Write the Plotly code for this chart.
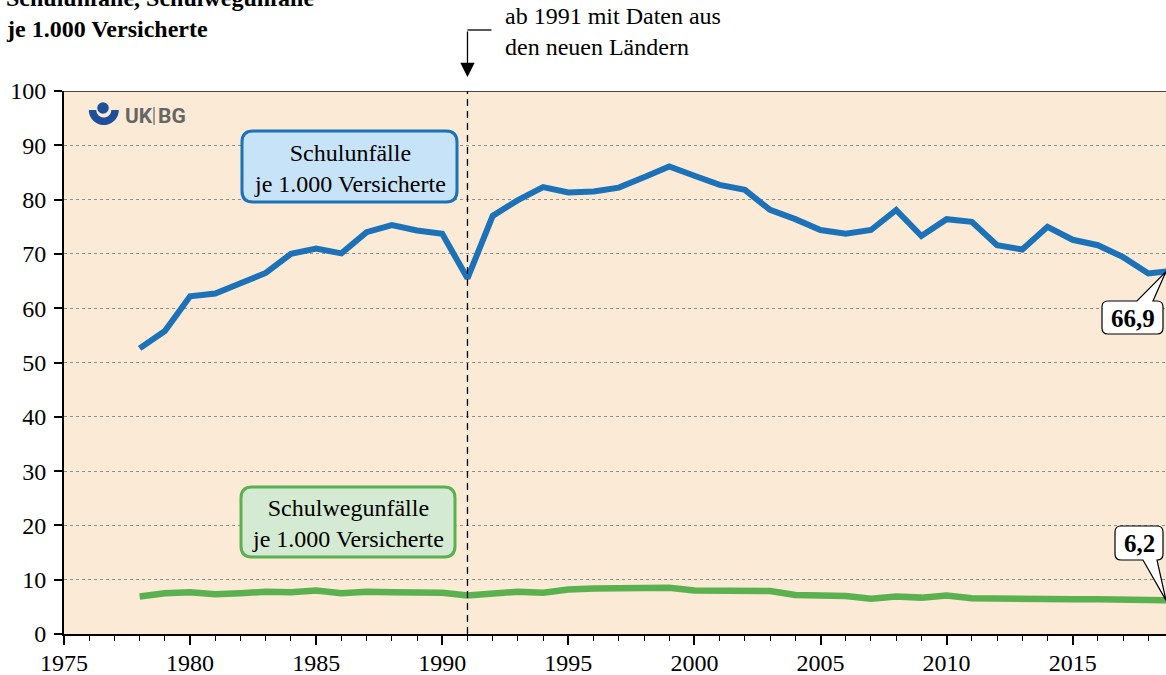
import numpy as np
import plotly.graph_objects as go

# --- data -------------------------------------------------------------
years = list(range(1978, 2020))

schulunfaelle = [
    52.6, 55.8, 62.2, 62.7, 64.6, 66.5, 70.0, 71.0, 70.1, 74.0, 75.3, 74.3, 73.7, 65.5,
    77.0, 79.9, 82.3, 81.3, 81.5, 82.2, 84.1, 86.1, 84.4, 82.7, 81.8, 78.1, 76.4, 74.4,
    73.7, 74.4, 78.1, 73.3, 76.4, 75.9, 71.6, 70.8, 75.0, 72.6, 71.6, 69.4, 66.4, 66.9,
]

schulwegunfaelle = [
    6.9, 7.5, 7.7, 7.3, 7.5, 7.8, 7.7, 8.0, 7.5, 7.8, 7.7, 7.55, 7.6, 7.1,
    7.4, 7.8, 7.6, 8.2, 8.4, 8.5, 8.5, 8.5, 8.0, 8.0, 7.9, 7.9, 7.2, 7.1,
    7.0, 6.5, 6.9, 6.7, 7.1, 6.6, 6.5, 6.5, 6.4, 6.4, 6.4, 6.3, 6.2, 6.2,
]

x_ticks = [1975, 1980, 1985, 1990, 1995, 2000, 2005, 2010, 2015]
y_ticks = list(range(0, 101, 10))
break_year = 1991

# --- geometry helpers (pixel -> paper) -------------------------------
W, H = 1166, 675
L, T, B = 64, 91, 41
PW = W - L
PH = H - T - B
X0, X1 = 1975, 2018.7
Y0, Y1 = 0, 100

SERIF = "Liberation Serif"
BLUE = "#1B72B9"
GREEN = "#5BB050"
FS = 24


def px(x):
    return (x - L) / PW


def py(y):
    return (H - B - y) / PH


def data_to_pix(xv, yv):
    return (L + (xv - X0) / (X1 - X0) * PW, H - B - (yv - Y0) / (Y1 - Y0) * PH)


def pt(x, y):
    return f"{px(x):.5f},{py(y):.5f}"


def bubble_path(x0, y0, x1, y1, r, wedge=None):
    """Rounded rectangle (pixel coords), optional wedge ('top'|'bottom', a, b, tip)."""
    d = f"M{pt(x0 + r, y0)}"
    if wedge and wedge[0] == "top":
        _, a, b, (tx, ty) = wedge
        d += f" L{pt(a, y0)} L{pt(tx, ty)} L{pt(b, y0)}"
    d += f" L{pt(x1 - r, y0)} Q{pt(x1, y0)} {pt(x1, y0 + r)}"
    d += f" L{pt(x1, y1 - r)} Q{pt(x1, y1)} {pt(x1 - r, y1)}"
    if wedge and wedge[0] == "bottom":
        _, a, b, (tx, ty) = wedge
        d += f" L{pt(b, y1)} L{pt(tx, ty)} L{pt(a, y1)}"
    d += f" L{pt(x0 + r, y1)} Q{pt(x0, y1)} {pt(x0, y1 - r)}"
    d += f" L{pt(x0, y0 + r)} Q{pt(x0, y0)} {pt(x0 + r, y0)} Z"
    return d


def edge_value(values):
    # value of a series where it leaves the right edge of the plot
    return float(np.interp(X1, years, values))


def fmt(v):
    return f"{v:.1f}".replace(".", ",")


# --- figure -----------------------------------------------------------
fig = go.Figure()

fig.add_trace(go.Scatter(
    x=years, y=schulunfaelle, mode="lines",
    line=dict(color=BLUE, width=6), hoverinfo="skip",
))
fig.add_trace(go.Scatter(
    x=years, y=schulwegunfaelle, mode="lines",
    line=dict(color=GREEN, width=6.5), hoverinfo="skip",
))

shapes = []
annotations = []

# top frame line
shapes.append(dict(type="line", xref="paper", yref="y", x0=0, x1=1, y0=Y1, y1=Y1,
                   line=dict(color="#4a4a4a", width=2), layer="above"))

# dashed marker for 1991
shapes.append(dict(type="line", xref="x", yref="y", x0=break_year, x1=break_year, y0=Y0, y1=Y1,
                   line=dict(color="black", width=1.3, dash="7px,5px"), layer="above"))

# elbow of the pointer arrow above the plot
bx, _ = data_to_pix(break_year, 0)
shapes.append(dict(type="line", xref="paper", yref="paper",
                   x0=px(bx), x1=px(bx + 24), y0=py(30), y1=py(30),
                   line=dict(color="black", width=1.3)))
annotations.append(dict(
    xref="x", yref="paper", x=break_year, y=py(77), ax=0, ay=-47,
    text="", showarrow=True, arrowhead=2, arrowsize=2.2, arrowwidth=1.3, arrowcolor="black",
))
annotations.append(dict(
    xref="paper", yref="paper", x=px(503), y=py(31), xanchor="left", yanchor="middle",
    text="ab 1991 mit Daten aus<br>den neuen Ländern", align="left", showarrow=False,
    font=dict(family=SERIF, size=FS, color="black"),
))

# heading (first line runs off the top edge of the page)
annotations.append(dict(
    xref="paper", yref="paper", x=px(4), y=py(-2), xanchor="left", yanchor="middle",
    text="<b>Schulunfälle, Schulwegunfälle</b>", showarrow=False,
    font=dict(family=SERIF, size=FS, color="black"),
))
annotations.append(dict(
    xref="paper", yref="paper", x=px(4), y=py(29), xanchor="left", yanchor="middle",
    text="<b>je 1.000 Versicherte</b>", showarrow=False,
    font=dict(family=SERIF, size=FS, color="black"),
))

# series labels in rounded boxes
shapes.append(dict(type="path", xref="paper", yref="paper",
                   path=bubble_path(242, 131, 457, 202, 11),
                   fillcolor="#C7E3F8", line=dict(color=BLUE, width=3), layer="above"))
annotations.append(dict(
    xref="paper", yref="paper", x=px(349.5), y=py(168), xanchor="center", yanchor="middle",
    text="Schulunfälle<br>je 1.000 Versicherte", showarrow=False,
    font=dict(family=SERIF, size=FS, color="black"),
))
shapes.append(dict(type="path", xref="paper", yref="paper",
                   path=bubble_path(241, 487, 455, 557, 11),
                   fillcolor="#D4EAD2", line=dict(color=GREEN, width=3), layer="above"))
annotations.append(dict(
    xref="paper", yref="paper", x=px(348), y=py(523), xanchor="center", yanchor="middle",
    text="Schulwegunfälle<br>je 1.000 Versicherte", showarrow=False,
    font=dict(family=SERIF, size=FS, color="black"),
))

# value callouts for the latest year
tip_blue = data_to_pix(X1, edge_value(schulunfaelle))
shapes.append(dict(type="path", xref="paper", yref="paper",
                   path=bubble_path(1102, 301, 1163, 334, 6, ("top", 1137, 1153, tip_blue)),
                   fillcolor="white", line=dict(color="black", width=1.2), layer="above"))
annotations.append(dict(
    xref="paper", yref="paper", x=px(1132.5), y=py(318), xanchor="center", yanchor="middle",
    text=f"<b>{fmt(schulunfaelle[-1])}</b>", showarrow=False,
    font=dict(family=SERIF, size=25, color="black"),
))

tip_green = data_to_pix(X1, edge_value(schulwegunfaelle))
shapes.append(dict(type="path", xref="paper", yref="paper",
                   path=bubble_path(1115, 526, 1163, 560, 6, ("bottom", 1143, 1157, tip_green)),
                   fillcolor="white", line=dict(color="black", width=1.2), layer="above"))
annotations.append(dict(
    xref="paper", yref="paper", x=px(1139), y=py(543), xanchor="center", yanchor="middle",
    text=f"<b>{fmt(schulwegunfaelle[-1])}</b>", showarrow=False,
    font=dict(family=SERIF, size=25, color="black"),
))

# UK|BG logo
LOGO_BLUE = "#1D4F9B"
cx, cy, r_out, r_in = 103.8, 110.0, 15.0, 7.5
t = np.linspace(0, np.pi, 40)
outer = [(cx + r_out * np.cos(a), cy + r_out * np.sin(a)) for a in t]
inner = [(cx + r_in * np.cos(a), cy + r_in * np.sin(a)) for a in t[::-1]]
bowl = "M" + " L".join(pt(x, y) for x, y in outer + inner) + " Z"
shapes.append(dict(type="path", xref="paper", yref="paper", path=bowl,
                   fillcolor=LOGO_BLUE, line=dict(width=0), layer="above"))
dcx, dcy, dr = 103.0, 108.0, 5.8
shapes.append(dict(type="circle", xref="paper", yref="paper",
                   x0=px(dcx - dr), x1=px(dcx + dr), y0=py(dcy + dr), y1=py(dcy - dr),
                   fillcolor=LOGO_BLUE, line=dict(width=0), layer="above"))
annotations.append(dict(
    xref="paper", yref="paper", x=px(123), y=py(116), xanchor="left", yanchor="middle",
    text="<b>UK</b>", showarrow=False,
    font=dict(family="Roboto", size=21, color="#666666"),
))
shapes.append(dict(type="line", xref="paper", yref="paper",
                   x0=px(154), x1=px(154), y0=py(107), y1=py(125),
                   line=dict(color="#666666", width=1.2), layer="above"))
annotations.append(dict(
    xref="paper", yref="paper", x=px(156), y=py(116), xanchor="left", yanchor="middle",
    text="<b>BG</b>", showarrow=False,
    font=dict(family="Roboto", size=21, color="#666666"),
))

tickfont = dict(family=SERIF, size=FS, color="black")

fig.update_layout(
    width=W, height=H,
    margin=dict(l=L, r=0, t=T, b=B, pad=0, autoexpand=False),
    paper_bgcolor="white",
    plot_bgcolor="#FAEAD6",
    showlegend=False,
    shapes=shapes,
    annotations=annotations,
    xaxis=dict(
        range=[X0, X1], tickmode="array", tickvals=x_ticks, ticktext=[str(v) for v in x_ticks],
        ticks="outside", ticklen=9, tickwidth=1.5, tickcolor="black",
        showline=True, linecolor="black", linewidth=2, automargin=False,
        ticklabelstandoff=-3,
        showgrid=False, zeroline=False, tickfont=tickfont,
        minor=dict(dtick=1, tick0=1975, ticks="outside", ticklen=5, tickwidth=1.2,
                   tickcolor="black", showgrid=False),
    ),
    yaxis=dict(
        range=[Y0, Y1], tickmode="array", tickvals=y_ticks, ticktext=[str(v) for v in y_ticks],
        ticks="outside", ticklen=8, tickwidth=1.5, tickcolor="black",
        showline=True, linecolor="black", linewidth=2, ticklabelstandoff=3, automargin=False,
        showgrid=True, gridcolor="#8f8f8f", gridwidth=1, griddash="dot",
        zeroline=False, tickfont=tickfont,
    ),
)

fig.write_html("out.html")
